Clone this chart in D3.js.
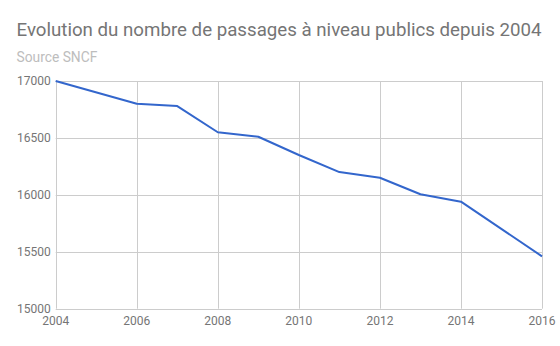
<!DOCTYPE html>
<html><head><meta charset="utf-8">
<script src="https://cdn.jsdelivr.net/npm/d3@7"></script>
<style>body{margin:0;background:#fff;}svg{display:block;font-family:Roboto,sans-serif;}</style>
</head><body>
<svg id="c" width="560" height="346"></svg>
<script>
const years = [2004, 2006, 2007, 2008, 2009, 2010, 2011, 2012, 2013, 2014, 2016];
const values = [17000, 16800, 16780, 16550, 16510, 16350, 16200, 16150, 16005, 15940, 15460];
const yTicks = [15000, 15500, 16000, 16500, 17000];
const xTicks = [2004, 2006, 2008, 2010, 2012, 2014, 2016];
const title = "Evolution du nombre de passages à niveau publics depuis 2004";
const subtitle = "Source SNCF";

const svg = d3.select("#c");
const L = 55.7, R = 542, T = 81, B = 308.7;
const x = d3.scaleLinear().domain([2004, 2016]).range([L, R]);
const y = d3.scaleLinear().domain([15000, 17000]).range([B, T]);

svg.append("text").attr("x", 16.5).attr("y", 35.5).attr("font-size", 18.7).attr("fill", "#757575").text(title);
svg.append("text").attr("x", 16.5).attr("y", 61.5).attr("font-size", 13.8).attr("fill", "#bdbdbd").text(subtitle);

const g = svg.append("g");
g.selectAll(".hg").data(yTicks).join("line")
  .attr("x1", L).attr("x2", R).attr("y1", d => Math.round(y(d)) + 0.5).attr("y2", d => Math.round(y(d)) + 0.5)
  .attr("stroke", "#cccccc").attr("stroke-width", 1);
g.selectAll(".vg").data(xTicks).join("line")
  .attr("y1", T).attr("y2", B).attr("x1", d => Math.round(x(d)) + 0.5).attr("x2", d => Math.round(x(d)) + 0.5)
  .attr("stroke", "#cccccc").attr("stroke-width", 1);

g.selectAll(".yl").data(yTicks).join("text")
  .attr("x", L - 5).attr("y", d => y(d) + 4).attr("text-anchor", "end")
  .attr("font-size", 12).attr("fill", "#757575").text(d => d);
g.selectAll(".xl").data(xTicks).join("text")
  .attr("x", d => x(d)).attr("y", 325).attr("text-anchor", "middle")
  .attr("font-size", 12).attr("fill", "#757575").text(d => d);

const line = d3.line().x((d, i) => x(years[i])).y(d => y(d));
svg.append("path").datum(values).attr("d", line).attr("fill", "none")
  .attr("stroke", "#3366cc").attr("stroke-width", 2).attr("stroke-linejoin", "round");
</script>
</body></html>
